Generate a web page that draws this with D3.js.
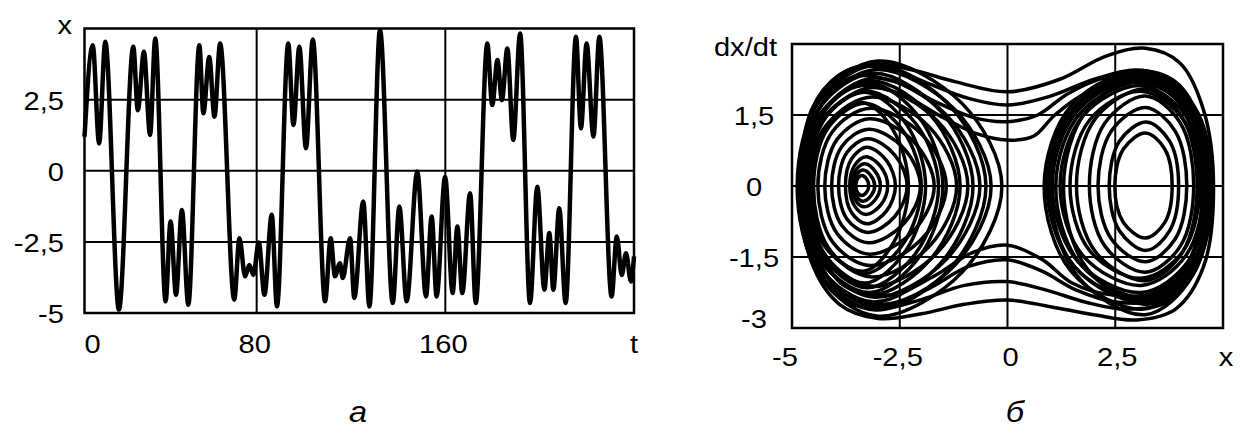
<!DOCTYPE html>
<html>
<head>
<meta charset="utf-8">
<title></title>
<script src="https://cdn.jsdelivr.net/npm/d3@7"></script>
<style>
  body { margin: 0; background: #fff; }
  text { font-family: "Liberation Sans", Arial, sans-serif; fill: #000; }
</style>
</head>
<body>
<div id="chart"></div>
<script>
// ---- panel a: x(t), local maxima / minima ----
var tValues = [7, 10.5, 13.2, 15.8, 21.6, 27.7, 29.6, 32.2, 34.8, 37.0, 41.4, 43.5, 45.8, 48.3, 51.0,
  55.7, 57.4, 59.9, 62.1, 64.5, 70.5, 72.7, 75.1, 76.9, 78.6, 80.9, 83.3, 86.4, 88.6,
  93.4, 95.6, 98.1, 100.9, 103.8, 109.0, 111.4, 113.2, 115.3, 116.5, 119.6, 121.4, 125.2, 127.8,
  132.3, 137.7, 140.5, 143.6, 148.1, 151.8, 154.2, 156.3, 159.9, 163.1, 165.1, 167.2, 170.5, 172.9,
  177.8, 179.9, 182.1, 184.0, 186.3, 188.8, 191.7, 195.9, 199.0, 202.0, 204.1, 205.8, 208.3, 211.0,
  215.4, 217.5, 219.9, 222.8, 225.3, 230.5, 232.7, 234.8, 236.6, 238.7, 240];
var xValues = [1.2, 4.41, 0.96, 4.53, -4.88, 4.36, 2.13, 4.18, 1.26, 4.65, -4.59, -1.78, -4.36, -1.38, -4.71,
  4.41, 2.02, 4.0, 1.9, 4.47, -4.53, -2.37, -3.71, -3.31, -3.66, -2.52, -4.36, -1.55, -4.77,
  4.47, 1.61, 4.36, 0.79, 4.61, -4.59, -2.37, -3.71, -3.25, -3.77, -2.37, -4.47, -1.08, -4.77,
  4.94, -4.65, -1.26, -4.59, -0.03, -4.42, -1.61, -4.42, -0.21, -4.3, -1.96, -4.3, -0.79, -4.65,
  4.47, 2.31, 3.89, 2.48, 4.3, 1.08, 4.82, -4.65, -0.56, -4.18, -2.19, -4.18, -1.32, -4.65,
  4.71, 1.49, 4.47, 1.2, 4.71, -4.42, -2.31, -3.66, -2.9, -3.89, -3.01];
var tGrid = [80, 160];
var tLabels = ["0", "80", "160", "t"];
var xGrid = [-2.5, 0, 2.5];
var xLabels = [-5, -2.5, 0, 2.5];

// ---- panel б: phase portrait, loops as [x, dx/dt] ----
var leftWellLoops = [
  [[-3.52,0],[-3.48,0.15],[-3.38,0.22],[-3.27,0.15],[-3.22,0],[-3.27,-0.13],[-3.38,-0.2],[-3.48,-0.14]],
  [[-3.56,0],[-3.50,0.24],[-3.35,0.34],[-3.17,0.22],[-3.08,0],[-3.17,-0.21],[-3.35,-0.32],[-3.50,-0.22]],
  [[-3.60,0],[-3.52,0.33],[-3.32,0.47],[-3.07,0.31],[-2.95,0],[-3.07,-0.29],[-3.32,-0.44],[-3.52,-0.31]],
  [[-3.66,0],[-3.55,0.43],[-3.28,0.62],[-2.94,0.41],[-2.78,0],[-2.94,-0.4],[-3.28,-0.6],[-3.55,-0.42]],
  [[-3.76,0],[-3.62,0.57],[-3.26,0.82],[-2.81,0.54],[-2.60,0],[-2.81,-0.53],[-3.26,-0.8],[-3.62,-0.56]],
  [[-3.92,0],[-3.73,0.7],[-3.24,1.0],[-2.62,0.66],[-2.33,0],[-2.62,-0.65],[-3.24,-0.98],[-3.73,-0.69]],
  [[-4.08,0],[-3.84,0.84],[-3.22,1.2],[-2.40,0.79],[-2.02,0],[-2.40,-0.79],[-3.22,-1.2],[-3.84,-0.84]],
  [[-4.24,0],[-3.95,0.99],[-3.2,1.42],[-2.18,0.94],[-1.70,0],[-2.18,-0.95],[-3.2,-1.44],[-3.95,-1.01]],
  [[-4.40,0],[-4.06,1.15],[-3.18,1.64],[-1.98,1.08],[-1.42,0],[-1.98,-1.11],[-3.18,-1.68],[-4.06,-1.18]],
  [[-4.54,0],[-4.15,1.32],[-3.15,1.88],[-1.81,1.24],[-1.18,0],[-1.81,-1.27],[-3.15,-1.92],[-4.15,-1.34]],
  [[-4.64,0],[-4.21,1.46],[-3.12,2.08],[-1.62,1.37],[-0.92,0],[-1.62,-1.4],[-3.12,-2.12],[-4.21,-1.48]],
  [[-4.72,0],[-4.26,1.6],[-3.08,2.28],[-1.42,1.5],[-0.64,0],[-1.42,-1.55],[-3.08,-2.35],[-4.26,-1.65]],
  [[-4.79,0],[-4.30,1.72],[-3.04,2.46],[-1.23,1.62],[-0.38,0],[-1.23,-1.68],[-3.04,-2.55],[-4.30,-1.79]],
  [[-4.86,0],[-4.34,1.85],[-3.0,2.64],[-1.05,1.74],[-0.13,0],[-1.05,-1.82],[-3.0,-2.75],[-4.34,-1.93]],
  [[-4.83,0],[-4.35,1.67],[-3.1,2.38],[-1.54,1.57],[-0.8,0],[-1.54,-1.62],[-3.1,-2.45],[-4.35,-1.72]],
  [[-4.78,0],[-4.34,1.53],[-3.2,2.18],[-2.04,1.44],[-1.5,0],[-2.04,-1.49],[-3.2,-2.25],[-4.34,-1.58]],
  [[-4.70,0],[-4.31,1.39],[-3.3,1.98],[-2.35,1.31],[-1.9,0],[-2.35,-1.35],[-3.3,-2.05],[-4.31,-1.44]],
  [[-4.60,0],[-4.25,1.23],[-3.35,1.76],[-2.64,1.16],[-2.3,0],[-2.64,-1.19],[-3.35,-1.8],[-4.25,-1.26]],
  [[-4.88,0],[-4.37,1.79],[-3.05,2.55],[-1.32,1.68],[-0.5,0],[-1.32,-1.73],[-3.05,-2.62],[-4.37,-1.83]],
  [[-4.74,0],[-4.29,1.55],[-3.15,2.22],[-1.76,1.47],[-1.1,0],[-1.76,-1.52],[-3.15,-2.3],[-4.29,-1.61]],
  [[-4.66,0],[-4.27,1.4],[-3.25,2.0],[-2.13,1.32],[-1.6,0],[-2.13,-1.42],[-3.25,-2.15],[-4.27,-1.5]],
  [[-4.50,0],[-4.16,1.23],[-3.3,1.75],[-2.42,1.16],[-2.0,0],[-2.42,-1.22],[-3.3,-1.85],[-4.16,-1.3]]
];
var rightWellLoops = [
  [[2.49,0],[2.69,0.78],[3.2,1.12],[3.65,0.78],[3.82,0],[3.65,-0.77],[3.2,-1.1],[2.69,-0.77]],
  [[2.36,0],[2.60,0.95],[3.22,1.35],[3.76,0.95],[3.97,0],[3.76,-0.95],[3.22,-1.36],[2.60,-0.95]],
  [[2.1,0],[2.41,1.16],[3.2,1.66],[3.89,1.16],[4.16,0],[3.89,-1.12],[3.2,-1.6],[2.41,-1.12]],
  [[1.9,0],[2.26,1.33],[3.2,1.9],[4.01,1.33],[4.32,0],[4.01,-1.27],[3.2,-1.82],[2.26,-1.27]],
  [[1.45,0],[1.91,1.4],[3.1,2.0],[4.08,1.4],[4.46,0],[4.08,-1.37],[3.1,-1.95],[1.91,-1.37]],
  [[1.22,0],[1.75,1.48],[3.1,2.12],[4.14,1.48],[4.55,0],[4.14,-1.47],[3.1,-2.1],[1.75,-1.47]],
  [[1.04,0],[1.62,1.58],[3.1,2.26],[4.2,1.58],[4.63,0],[4.2,-1.58],[3.1,-2.25],[1.62,-1.58]],
  [[0.92,0],[1.53,1.65],[3.1,2.36],[4.25,1.65],[4.7,0],[4.25,-1.68],[3.1,-2.4],[1.53,-1.68]],
  [[0.85,0],[1.49,1.71],[3.15,2.44],[4.31,1.71],[4.76,0],[4.31,-1.82],[3.15,-2.6],[1.49,-1.82]],
  [[1.0,0],[1.62,1.68],[3.2,2.4],[4.29,1.68],[4.72,0],[4.29,-1.9],[3.2,-2.72],[1.62,-1.9]],
  [[1.3,0],[1.85,1.61],[3.25,2.3],[4.27,1.61],[4.66,0],[4.27,-1.75],[3.25,-2.5],[1.85,-1.75]],
  [[1.12,0],[1.69,1.54],[3.15,2.2],[4.19,1.54],[4.6,0],[4.19,-1.65],[3.15,-2.35],[1.69,-1.65]],
  [[0.95,0],[1.57,1.61],[3.15,2.3],[4.25,1.61],[4.68,0],[4.25,-1.72],[3.15,-2.45],[1.57,-1.72]],
  [[1.6,0],[2.05,1.44],[3.2,2.05],[4.06,1.44],[4.4,0],[4.06,-1.4],[3.2,-2.0],[2.05,-1.4]]
];
// orbits that cross from one well to the other
var crossingLoops = [
  [[-4.8,0],[-4.55,1.6],[-3.9,2.35],[-3.1,2.58],[-2.2,2.45],[-1.2,2.2],[0,1.99],[1.2,2.25],[2.3,2.75],[3.2,2.91],
   [4.0,2.6],[4.55,1.6],[4.78,0],[4.55,-1.7],[3.9,-2.6],[3.0,-2.83],[2.0,-2.72],[1.0,-2.55],[0,-2.41],[-1.0,-2.5],
   [-2.0,-2.7],[-3.0,-2.8],[-3.9,-2.5],[-4.55,-1.6]],
  [[-4.75,0],[-4.45,1.7],[-3.7,2.45],[-2.8,2.5],[-1.8,2.15],[-0.9,1.85],[0,1.71],[1.0,1.9],[2.0,2.25],[3.0,2.45],
   [3.9,2.2],[4.5,1.3],[4.7,0],[4.45,-1.6],[3.7,-2.45],[2.7,-2.6],[1.8,-2.45],[0.9,-2.2],[0,-2.02],[-1.0,-2.1],
   [-2.0,-2.4],[-3.0,-2.6],[-3.9,-2.35],[-4.5,-1.5]],
  [[-4.7,0],[-4.4,1.6],[-3.6,2.3],[-2.6,2.2],[-1.6,1.75],[-0.8,1.45],[0,1.36],[0.7,1.5],[1.4,1.95],[2.3,2.3],
   [3.3,2.35],[4.2,1.8],[4.62,0],[4.3,-1.7],[3.5,-2.4],[2.5,-2.45],[1.6,-2.2],[0.8,-1.8],[0,-1.56],[-0.9,-1.7],
   [-1.9,-2.2],[-2.9,-2.5],[-3.9,-2.2],[-4.45,-1.4]],
  [[-4.6,0],[-4.3,1.5],[-3.5,2.1],[-2.5,1.95],[-1.5,1.45],[-0.7,1.1],[0,0.97],[0.6,1.05],[1.1,1.5],[1.8,1.95],
   [2.8,2.2],[3.9,1.85],[4.5,0],[4.2,-1.6],[3.4,-2.25],[2.4,-2.3],[1.5,-2.05],[0.8,-1.55],[0,-1.25],[-0.8,-1.4],
   [-1.7,-1.9],[-2.7,-2.3],[-3.8,-2.1],[-4.35,-1.3]]
];
var pxGrid = [-2.5, 0, 2.5];
var pxLabels = [-5, -2.5, 0, 2.5];
var pvGrid = [-1.5, 0, 1.5];
var pvLabels = [-3, -1.5, 0, 1.5];

var fmt = function (d) { return String(d).replace(".", ","); };

var svg = d3.select("#chart").append("svg")
  .attr("width", 1240).attr("height", 433);

// the scanned figure has slightly stretched lettering
function label(txt, x, y, anchor, size, italic) {
  svg.append("text")
    .attr("transform", "translate(" + x + "," + y + ") scale(1.12,1)")
    .attr("text-anchor", anchor)
    .style("font-size", (size || 26) + "px")
    .style("font-style", italic ? "italic" : "normal")
    .text(txt);
}

// ---------- panel a ----------
var t = d3.scaleLinear().domain([7, 240]).range([84.5, 634]);
var xv = d3.scaleLinear().domain([-5, 5]).range([313, 28.5]);

var ga = svg.append("g");
ga.selectAll(".hg").data(xGrid).enter().append("line")
  .attr("x1", t.range()[0]).attr("x2", t.range()[1])
  .attr("y1", xv).attr("y2", xv)
  .attr("stroke", "#000").attr("stroke-width", 2);
ga.selectAll(".vg").data(tGrid).enter().append("line")
  .attr("x1", t).attr("x2", t)
  .attr("y1", xv.range()[0]).attr("y2", xv.range()[1])
  .attr("stroke", "#000").attr("stroke-width", 2);

ga.append("path")
  .datum(d3.range(tValues.length))
  .attr("fill", "none")
  .attr("stroke", "#000")
  .attr("stroke-width", 4.5)
  .attr("stroke-linejoin", "round")
  .attr("d", d3.line()
    .x(function (i) { return t(tValues[i]); })
    .y(function (i) { return xv(xValues[i]); })
    .curve(d3.curveMonotoneX));

ga.append("rect")
  .attr("x", t.range()[0]).attr("y", xv.range()[1])
  .attr("width", t.range()[1] - t.range()[0])
  .attr("height", xv.range()[0] - xv.range()[1])
  .attr("fill", "none").attr("stroke", "#000").attr("stroke-width", 2.5);

xLabels.forEach(function (d) { label(fmt(d), 64, xv(d) + 10, "end"); });
label("x", 72, 34, "end");
label(tLabels[0], t.range()[0], 353, "start");
label(tLabels[1], t(tGrid[0]) - 2, 353, "middle");
label(tLabels[2], t(tGrid[1]) - 2, 353, "middle");
label(tLabels[3], t.range()[1] + 4, 353, "end");

// ---------- panel б ----------
var px = d3.scaleLinear().domain([-5, 5]).range([792, 1223]);
var pv = d3.scaleLinear().domain([-3, 3]).range([328, 44]);

var gb = svg.append("g");
gb.selectAll(".hg").data(pvGrid).enter().append("line")
  .attr("x1", px.range()[0]).attr("x2", px.range()[1])
  .attr("y1", pv).attr("y2", pv)
  .attr("stroke", "#000").attr("stroke-width", 2);
gb.selectAll(".vg").data(pxGrid).enter().append("line")
  .attr("x1", px).attr("x2", px)
  .attr("y1", pv.range()[0]).attr("y2", pv.range()[1])
  .attr("stroke", "#000").attr("stroke-width", 2);

var loopLine = d3.line()
  .x(function (d) { return px(d[0]); })
  .y(function (d) { return pv(d[1]); })
  .curve(d3.curveCatmullRomClosed.alpha(0.5));

gb.selectAll(".loop")
  .data(leftWellLoops.concat(rightWellLoops, crossingLoops))
  .enter().append("path")
  .attr("fill", "none")
  .attr("stroke", "#000")
  .attr("stroke-width", 3.5)
  .attr("d", loopLine);

gb.append("rect")
  .attr("x", px.range()[0]).attr("y", pv.range()[1])
  .attr("width", px.range()[1] - px.range()[0])
  .attr("height", pv.range()[0] - pv.range()[1])
  .attr("fill", "none").attr("stroke", "#000").attr("stroke-width", 2.5);

pvLabels.forEach(function (d) {
  label(fmt(d), 754, (d === -3 ? pv(d) - 10 : pv(d)) + 10, "middle");
});
label("dx/dt", 777, 56, "end");
label(fmt(pxLabels[0]), 785, 366, "middle");
label(fmt(pxLabels[1]), px(pxLabels[1]) - 2, 366, "middle");
label(fmt(pxLabels[2]), px(pxLabels[2]) + 3, 366, "middle");
label(fmt(pxLabels[3]), px(pxLabels[3]) + 2, 366, "middle");
label("x", 1226, 366, "middle");

// panel captions
label("а", 358, 422, "middle", 29, true);
label("б", 1015, 422, "middle", 29, true);
</script>
</body>
</html>
